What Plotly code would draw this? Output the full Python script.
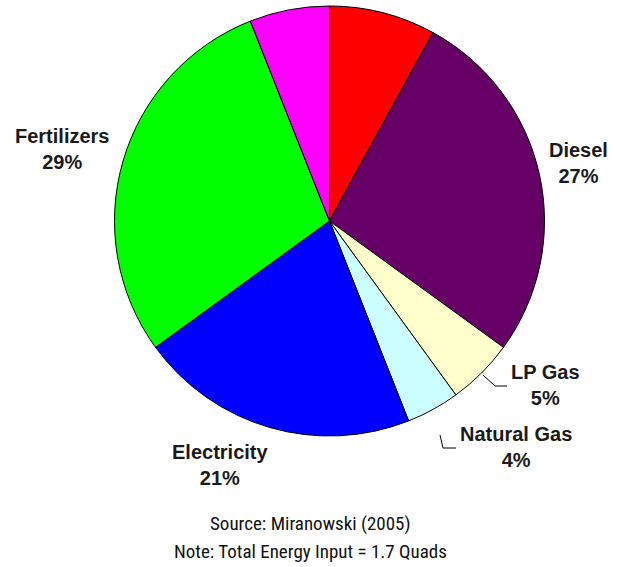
import plotly.graph_objects as go

# Data
categories = ["Other A", "Diesel", "LP Gas", "Natural Gas", "Electricity", "Fertilizers", "Other B"]
values = [8, 27, 5, 4, 21, 29, 6]
colors = ["#FF0000", "#660066", "#FFFFCC", "#CCFFFF", "#0000FF", "#00FF00", "#FF00FF"]
shown_labels = {"Diesel": (578, 163), "LP Gas": (545, 385), "Natural Gas": (516, 447),
                "Electricity": (220, 465), "Fertilizers": (62, 149)}

W, H = 617, 567
def px(x): return x / W
def py(y): return 1 - y / H

cx, cy, r = 329.5, 221, 215

fig = go.Figure(go.Pie(
    labels=categories, values=values, sort=False, direction="clockwise", rotation=0,
    marker=dict(colors=colors, line=dict(color="black", width=1)),
    textinfo="none", hoverinfo="label+percent", showlegend=False,
    domain=dict(x=[px(cx - r), px(cx + r)], y=[py(cy + r), py(cy - r)]),
))

annotations = []
for cat, val in zip(categories, values):
    if cat in shown_labels:
        x, y = shown_labels[cat]
        annotations.append(dict(
            x=px(x), y=py(y), xref="paper", yref="paper", showarrow=False,
            text=f"<b>{cat}<br>{val}%</b>", align="center",
            font=dict(family="Liberation Sans, Arial, sans-serif", size=20, color="#1a1a1a"),
            xanchor="center", yanchor="middle"))

note_font = dict(family="Liberation Sans Narrow, Roboto Condensed, Roboto, sans-serif", size=19, color="#111")
annotations.append(dict(x=px(310), y=py(523), xref="paper", yref="paper", showarrow=False,
                        text="Source: Miranowski (2005)", font=note_font, xanchor="center", yanchor="middle"))
annotations.append(dict(x=px(310), y=py(551), xref="paper", yref="paper", showarrow=False,
                        text="Note: Total Energy Input = 1.7 Quads", font=note_font, xanchor="center", yanchor="middle"))

def path(points):
    return "M " + " L ".join(f"{px(x)},{py(y)}" for x, y in points)

shapes = [
    dict(type="path", xref="paper", yref="paper", path=path([(483, 375), (495, 386), (507, 386)]),
         line=dict(color="black", width=1)),
    dict(type="path", xref="paper", yref="paper", path=path([(440, 435), (443, 448), (456, 448)]),
         line=dict(color="black", width=1)),
]

fig.update_layout(width=W, height=H, margin=dict(l=0, r=0, t=0, b=0),
                  paper_bgcolor="white", plot_bgcolor="white",
                  annotations=annotations, shapes=shapes)
fig.write_html("out.html", config={"displayModeBar": False},
               post_script="document.body.style.margin='0';document.body.style.padding='0';")
